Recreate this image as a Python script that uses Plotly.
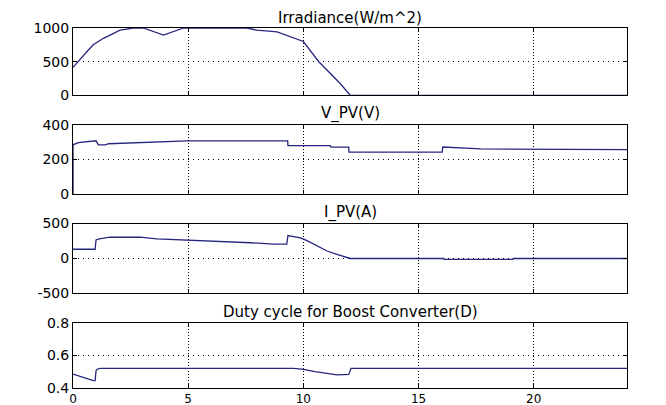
import plotly.graph_objects as go

# ---- data ----
irr_t = [0, 0.3, 0.6, 0.88, 1.32, 1.7, 2.04, 2.62, 3.05, 3.93, 4.8, 7.55, 7.99, 8.86, 10.0, 10.67, 11.6, 12.04, 24.05]
irr_v = [416, 537, 648, 752, 847, 910, 967, 1000, 1000, 895, 1000, 1000, 967, 943, 800, 500, 178, 0, 0]

vpv_t = [0, 0, 0.23, 0.88, 1.0, 1.1, 1.4, 1.55, 2.77, 4.94, 9.32, 9.33, 11.17, 11.2, 11.97, 11.98, 16.03, 16.05, 17.26, 17.7, 24.05]
vpv_v = [0, 284, 297, 307, 307, 284, 284, 290, 297, 307, 307, 279, 279, 271, 271, 242, 242, 271, 263, 260, 256]

ipv_t = [0, 0.96, 1.0, 1.14, 1.61, 2.91, 3.64, 4.94, 6.68, 7.7, 8.71, 9.28, 9.33, 9.87, 10.16, 10.45, 11.03, 11.46, 11.9, 12.04, 16.1, 16.11, 19.1, 19.11, 24.05]
ipv_v = [132, 132, 265, 279, 304, 304, 279, 265, 240, 225, 206, 206, 328, 294, 255, 206, 107, 59, 10, 0, 0, -12, -12, 0, 0]

d_t = [0, 0.3, 0.6, 0.88, 0.96, 1.0, 1.05, 1.17, 9.58, 10.01, 10.5, 11.03, 11.46, 11.97, 12.07, 24.05]
d_v = [0.485, 0.47, 0.455, 0.445, 0.445, 0.505, 0.515, 0.52, 0.52, 0.514, 0.50, 0.488, 0.48, 0.483, 0.52, 0.52]

titles = ["Irradiance(W/m^2)", "V_PV(V)", "I_PV(A)", "Duty cycle for Boost Converter(D)"]
y_ticks = [[0, 500, 1000], [0, 200, 400], [-500, 0, 500], [0.4, 0.6, 0.8]]
y_ticktext = [["0", "500", "1000"], ["0", "200", "400"], ["-500", "0", "500"], ["0.4", "0.6", "0.8"]]
y_ranges = [[0, 1000], [0, 400], [-500, 500], [0.4, 0.8]]
x_ticks = [0, 5, 10, 15, 20]
x_range = [0, 24.05]

series = [(irr_t, irr_v), (vpv_t, vpv_v), (ipv_t, ipv_v), (d_t, d_v)]

# ---- layout ----
domains = [[0.8126, 1.0], [0.5392, 0.7313], [0.2626, 0.4569], [0.0, 0.1814]]
title_shift = [-1, 0, 0, 0]
LINE = "#26267f"
TICKFONT = dict(family="DejaVu Sans, Arial, sans-serif", size=14, color="black")
XTICKFONT = dict(family="DejaVu Sans, Arial, sans-serif", size=12, color="black")
TITLEFONT = dict(family="DejaVu Sans, Arial, sans-serif", size=15, color="black")

fig = go.Figure()
layout = dict(
    width=650, height=410,
    margin=dict(l=65, r=31, t=16.5, b=12),
    paper_bgcolor="white", plot_bgcolor="white",
    showlegend=False, font=TICKFONT,
    annotations=[],
)

for i, (t, v) in enumerate(series):
    n = "" if i == 0 else str(i + 1)
    fig.add_trace(go.Scatter(x=t, y=v, mode="lines", line=dict(color=LINE, width=1.3),
                             xaxis="x" + n, yaxis="y" + n, hoverinfo="skip"))
    layout["xaxis" + n] = dict(
        domain=[0, 1], anchor="y" + n, range=x_range,
        tickvals=x_ticks, ticktext=[str(x) for x in x_ticks],
        showticklabels=(i == 3), ticks="inside", ticklen=4, tickcolor="black",
        showline=True, linecolor="black", linewidth=1, mirror="ticks",
        showgrid=True, gridcolor="black", gridwidth=1, griddash="1px,2px",
        zeroline=False, tickfont=XTICKFONT,
    )
    layout["yaxis" + n] = dict(
        domain=domains[i], anchor="x" + n, range=y_ranges[i],
        tickvals=y_ticks[i], ticktext=y_ticktext[i],
        ticks="inside", ticklen=4, tickcolor="black",
        showline=True, linecolor="black", linewidth=1, mirror="ticks",
        showgrid=True, gridcolor="black", gridwidth=1, griddash="1px,4px",
        zeroline=False, tickfont=TICKFONT,
    )
    layout["annotations"].append(dict(
        text=titles[i], x=0.5, xref="paper", y=domains[i][1], yref="paper",
        xanchor="center", yanchor="bottom", showarrow=False, yshift=title_shift[i],
        font=TITLEFONT,
    ))

fig.update_layout(**layout)
fig.write_html("out.html")
